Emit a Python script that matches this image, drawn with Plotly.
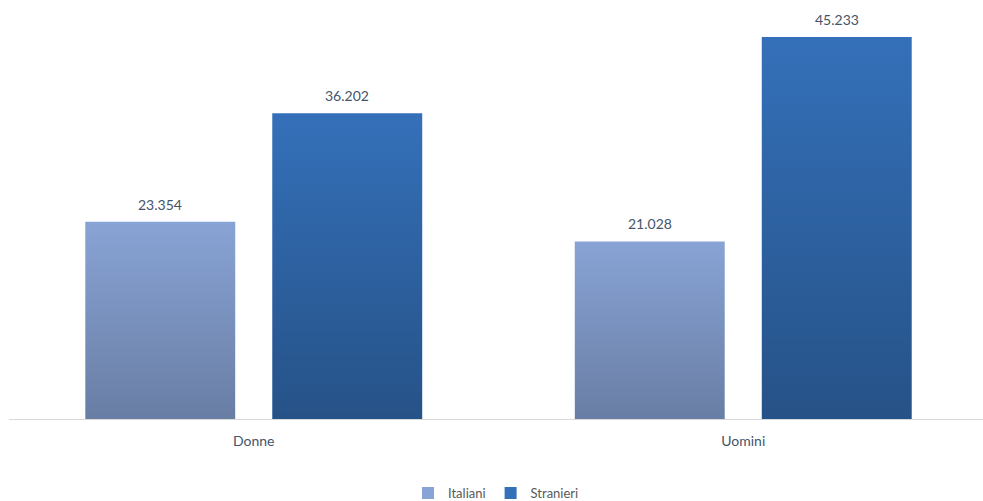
import base64
import plotly.graph_objects as go

# Data
categories = ["Donne", "Uomini"]
italiani = [23.354, 21.028]
stranieri = [36.202, 45.233]

label_color = "#44546a"
bargap = 0.236
bargroupgap = 0.198
bar_shift = 93.5  # pixel offset of each bar centre from its category centre

fig = go.Figure()
fig.add_trace(go.Bar(
    name="Italiani", x=categories, y=italiani,
    marker=dict(color="#88a3d5", line=dict(width=0)),
))
fig.add_trace(go.Bar(
    name="Stranieri", x=categories, y=stranieri,
    marker=dict(color="#3470b9", line=dict(width=0)),
))


def shade_uri(max_opacity):
    """Vertical shading: transparent at the top, darker towards the bottom."""
    svg = (
        '<svg xmlns="http://www.w3.org/2000/svg" width="10" height="100" '
        'viewBox="0 0 10 100" preserveAspectRatio="none">'
        '<defs><linearGradient id="g" x1="0" y1="0" x2="0" y2="1">'
        '<stop offset="0" stop-color="#000" stop-opacity="0"/>'
        f'<stop offset="1" stop-color="#000" stop-opacity="{max_opacity}"/>'
        '</linearGradient></defs>'
        '<rect width="10" height="100" fill="url(#g)"/></svg>'
    )
    return "data:image/svg+xml;base64," + base64.b64encode(svg.encode()).decode()


# Shading overlays follow each bar's slot in the grouped layout
slot = (1 - bargap) / 2
bar_w = slot * (1 - bargroupgap)
images = []
for series, side, opacity in ((italiani, -1, 0.23), (stranieri, 1, 0.27)):
    src = shade_uri(opacity)
    for i, v in enumerate(series):
        centre = i + side * slot / 2
        images.append(dict(
            source=src, xref="x", yref="y",
            x=centre - bar_w / 2, y=v, sizex=bar_w, sizey=v,
            xanchor="left", yanchor="top", sizing="stretch", layer="above",
        ))

# Value labels above each bar
annotations = []
for series, shift in ((italiani, -bar_shift), (stranieri, bar_shift)):
    for cat, v in zip(categories, series):
        annotations.append(dict(
            x=cat, y=v, xref="x", yref="y", text=f"{v:.3f}",
            showarrow=False, xshift=shift, yanchor="bottom", yshift=7,
            font=dict(size=14, color=label_color),
        ))

fig.update_layout(
    width=983, height=501,
    margin=dict(l=9, r=0, t=10, b=82, autoexpand=False),
    paper_bgcolor="white", plot_bgcolor="white",
    barmode="group", bargap=bargap, bargroupgap=bargroupgap,
    font=dict(family="Lato, Open Sans, sans-serif", size=12, color=label_color),
    showlegend=True,
    legend=dict(orientation="h", x=0.5, xanchor="center", y=-0.181, yanchor="middle",
                font=dict(size=13, color="#595959"), itemwidth=30, traceorder="normal"),
    annotations=annotations,
    images=images,
)
fig.update_xaxes(range=[-0.5, 1.4898], showline=True, linecolor="#d9d9d9", linewidth=1,
                 ticks="", tickfont=dict(size=14, color=label_color), showgrid=False,
                 ticklabelstandoff=9)
fig.update_yaxes(range=[0, 48.43], visible=False, showgrid=False, zeroline=False)

fig.write_html("out.html")
